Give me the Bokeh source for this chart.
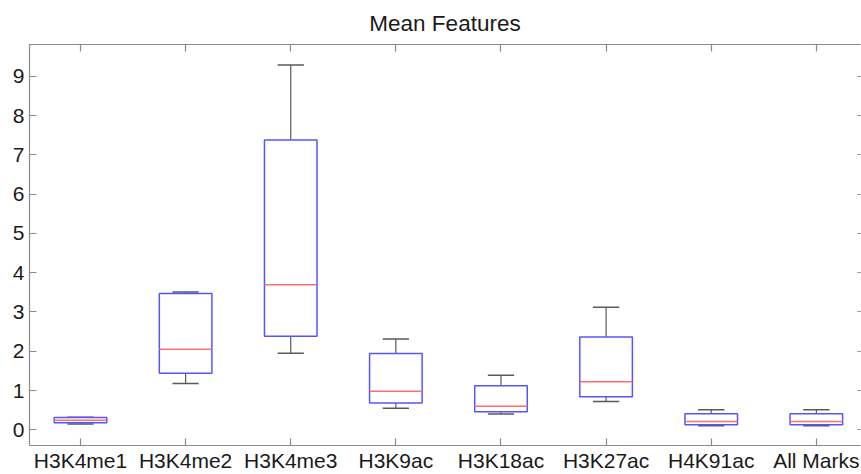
from bokeh.plotting import figure
from bokeh.models import Range1d, LinearAxis, FixedTicker, ColumnDataSource
from bokeh.embed import file_html
from bokeh.resources import INLINE

categories = ["H3K4me1", "H3K4me2", "H3K4me3", "H3K9ac", "H3K18ac", "H3K27ac", "H4K91ac", "All Marks"]
lower_whisker = [0.15, 1.18, 1.95, 0.55, 0.40, 0.72, 0.10, 0.10]
q1 = [0.18, 1.44, 2.38, 0.68, 0.46, 0.84, 0.13, 0.13]
medians = [0.245, 2.05, 3.69, 0.98, 0.60, 1.22, 0.21, 0.21]
q3 = [0.31, 3.47, 7.38, 1.94, 1.12, 2.36, 0.41, 0.41]
upper_whisker = [0.32, 3.51, 9.29, 2.31, 1.39, 3.12, 0.51, 0.51]
y_ticks = list(range(10))

FONT = "Liberation Sans"
BOX_W = 0.25
CAP_W = 0.125

pos = [i + 1 for i in range(len(categories))]
src = ColumnDataSource(dict(
    x=pos,
    left=[p - BOX_W for p in pos],
    right=[p + BOX_W for p in pos],
    cl=[p - CAP_W for p in pos],
    cr=[p + CAP_W for p in pos],
    lw=lower_whisker, q1=q1, med=medians, q3=q3, uw=upper_whisker,
))

p = figure(width=861, height=474, output_backend="svg", toolbar_location=None,
           x_range=Range1d(0.515, 8.42), y_range=Range1d(-0.40, 9.81),
           x_axis_location=None, y_axis_location=None,
           min_border_left=29, min_border_right=1, min_border_top=44, min_border_bottom=29)
p.outline_line_color = None
p.xgrid.visible = False
p.ygrid.visible = False
p.background_fill_color = "white"
p.border_fill_color = "white"

p.title.text = "Mean Features"
p.title.align = "center"
p.title.text_font = FONT
p.title.text_font_size = "22.5px"
p.title.text_font_style = "normal"
p.title.text_color = "#1a1a1a"
p.title.standoff = 17

AX_COL = "#8a8a8a"

def style_axis(ax, show_labels, line=True, tick_in=7):
    ax.axis_line_color = AX_COL if line else None
    ax.axis_line_width = 1.2
    ax.major_tick_line_color = AX_COL
    ax.major_tick_line_width = 1.2
    ax.major_tick_in = tick_in
    ax.major_tick_out = 0
    ax.minor_tick_line_color = None
    if show_labels:
        ax.major_label_text_font = FONT
        ax.major_label_text_font_size = "21px"
        ax.major_label_text_color = "#1a1a1a"
    else:
        ax.major_label_text_font_size = "0px"
        ax.major_label_text_color = None

xticks = FixedTicker(ticks=pos)
yticker = FixedTicker(ticks=y_ticks)
overrides = {p_: c for p_, c in zip(pos, categories)}

bottom = LinearAxis(ticker=xticks, major_label_overrides=overrides, major_label_standoff=3)
style_axis(bottom, True)
p.add_layout(bottom, "below")

left = LinearAxis(ticker=yticker, major_label_standoff=5)
style_axis(left, True)
p.add_layout(left, "left")

top = LinearAxis(ticker=xticks, major_label_standoff=0)
style_axis(top, False)
p.add_layout(top, "above")

right = LinearAxis(ticker=yticker, major_label_standoff=0)
style_axis(right, False, line=False, tick_in=3)
p.add_layout(right, "right")

# whiskers
p.segment(x0="x", y0="q3", x1="x", y1="uw", source=src, line_color="#5a5a5a", line_width=1.2)
p.segment(x0="x", y0="lw", x1="x", y1="q1", source=src, line_color="#5a5a5a", line_width=1.2)
# caps
p.segment(x0="cl", y0="uw", x1="cr", y1="uw", source=src, line_color="#5a5a5a", line_width=1.5)
p.segment(x0="cl", y0="lw", x1="cr", y1="lw", source=src, line_color="#5a5a5a", line_width=1.5)
# boxes
p.quad(left="left", right="right", bottom="q1", top="q3", source=src,
       fill_color=None, line_color="#5555ff", line_width=1.5)
# medians
p.segment(x0="left", y0="med", x1="right", y1="med", source=src, line_color="#ff6e6e", line_width=1.5)

open("out.html", "w").write(file_html(p, INLINE))
